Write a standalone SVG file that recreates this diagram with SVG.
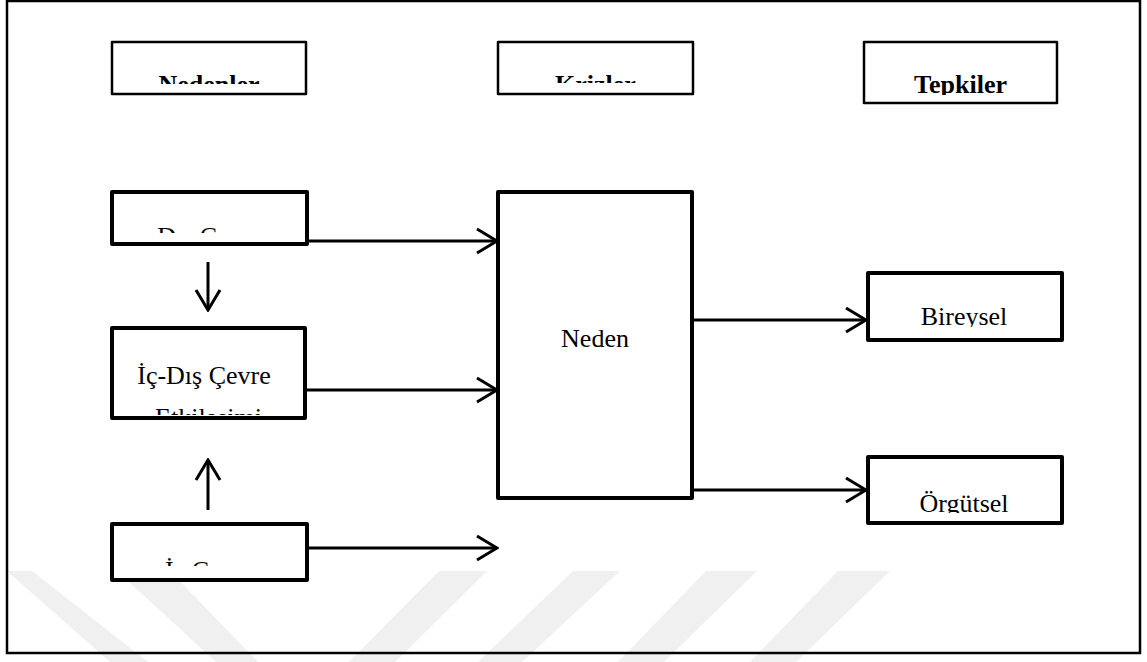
<svg xmlns="http://www.w3.org/2000/svg" width="1147" height="662" viewBox="0 0 1147 662">
  <style>
    .box { fill: #fff; stroke: #000; stroke-linejoin: round; }
    .thin { stroke-width: 2.5; }
    .thick { stroke-width: 4; }
    .head { font-family: "Liberation Serif", "Times New Roman", serif; font-weight: bold; font-size: 26px; text-anchor: middle; fill: #000; }
    .lbl { font-family: "Liberation Serif", "Times New Roman", serif; font-size: 26px; text-anchor: middle; fill: #000; }
    .conn { stroke: #000; stroke-width: 3; fill: none; }
    .wm { fill: #f0f0f0; }
  </style>
  <defs>
    <marker id="arrow" markerUnits="userSpaceOnUse" viewBox="-23 -14 25 28" refX="0" refY="0" markerWidth="25" markerHeight="28" orient="auto">
      <path d="M-20,-12 L0,0 L-20,12" fill="none" stroke="#000" stroke-width="3" stroke-linejoin="miter"/>
    </marker>
    <clipPath id="c-nedenler"><rect x="112" y="42" width="194" height="42"/></clipPath>
    <clipPath id="c-krizler"><rect x="498" y="42" width="195" height="41"/></clipPath>
    <clipPath id="c-tepkiler"><rect x="864" y="42" width="193" height="53"/></clipPath>
    <clipPath id="c-dis"><rect x="112" y="192" width="195" height="41"/></clipPath>
    <clipPath id="c-icdis"><rect x="112" y="328" width="193" height="87"/></clipPath>
    <clipPath id="c-ic"><rect x="112" y="524" width="195" height="42"/></clipPath>
    <clipPath id="c-bireysel"><rect x="868" y="273" width="194" height="54"/></clipPath>
    <clipPath id="c-orgutsel"><rect x="868" y="457" width="194" height="56"/></clipPath>
  </defs>

  <!-- page background and faint watermark bands -->
  <rect x="0" y="0" width="1147" height="662" fill="#fff"/>
  <g id="watermark">
    <polygon class="wm" points="7,571 32,571 148,662 110,662"/>
    <polygon class="wm" points="117,571 170,571 258,662 216,662"/>
    <polygon class="wm" points="439,571 487,571 395,662 349,662"/>
    <polygon class="wm" points="573,571 620,571 522,662 478,662"/>
    <polygon class="wm" points="706,571 757,571 664,662 618,662"/>
    <polygon class="wm" points="838,571 890,571 796,662 750,662"/>
  </g>

  <!-- outer frame -->
  <rect x="7" y="1" width="1133" height="652" fill="none" stroke="#000" stroke-width="2.5"/>

  <!-- column headers -->
  <g id="nedenler">
    <rect class="box thin" x="112" y="42" width="194" height="52"/>
    <text class="head" x="209" y="93" clip-path="url(#c-nedenler)">Nedenler</text>
  </g>
  <g id="krizler">
    <rect class="box thin" x="498" y="42" width="195" height="52"/>
    <text class="head" x="595.5" y="93" clip-path="url(#c-krizler)">Krizler</text>
  </g>
  <g id="tepkiler">
    <rect class="box thin" x="864" y="42" width="193" height="61"/>
    <text class="head" x="960.5" y="93" clip-path="url(#c-tepkiler)">Tepkiler</text>
  </g>

  <!-- causes -->
  <g id="dis-cevre">
    <rect class="box thick" x="112" y="192" width="195" height="52"/>
    <text class="lbl" x="209.5" y="245" clip-path="url(#c-dis)">Dış Çevre</text>
  </g>
  <g id="ic-dis-cevre">
    <rect class="box thick" x="112" y="328" width="193" height="90"/>
    <text class="lbl" x="204" y="384" font-size="28" clip-path="url(#c-icdis)">İç-Dış Çevre</text>
    <text class="lbl" x="208.5" y="426" font-size="27" clip-path="url(#c-icdis)">Etkileşimi</text>
  </g>
  <g id="ic-cevre">
    <rect class="box thick" x="112" y="524" width="195" height="56"/>
    <text class="lbl" x="209.5" y="579" clip-path="url(#c-ic)">İç Çevre</text>
  </g>

  <!-- crisis -->
  <g id="neden">
    <rect class="box thick" x="498" y="192" width="194" height="306"/>
    <text class="lbl" x="595" y="347">Neden</text>
  </g>

  <!-- responses -->
  <g id="bireysel">
    <rect class="box thick" x="868" y="273" width="194" height="67"/>
    <text class="lbl" x="964" y="325" clip-path="url(#c-bireysel)">Bireysel</text>
  </g>
  <g id="orgutsel">
    <rect class="box thick" x="868" y="457" width="194" height="66"/>
    <text class="lbl" x="964" y="512" clip-path="url(#c-orgutsel)">Örgütsel</text>
  </g>

  <!-- connectors -->
  <g id="connectors">
    <line class="conn" x1="309" y1="241" x2="497" y2="241" marker-end="url(#arrow)"/>
    <line class="conn" x1="307" y1="390" x2="497" y2="390" marker-end="url(#arrow)"/>
    <line class="conn" x1="309" y1="548" x2="497" y2="548" marker-end="url(#arrow)"/>
    <line class="conn" x1="208" y1="262" x2="208" y2="310" marker-end="url(#arrow)"/>
    <line class="conn" x1="208" y1="510" x2="208" y2="460" marker-end="url(#arrow)"/>
    <line class="conn" x1="694" y1="320" x2="866" y2="320" marker-end="url(#arrow)"/>
    <line class="conn" x1="694" y1="490" x2="866" y2="490" marker-end="url(#arrow)"/>
  </g>
</svg>
